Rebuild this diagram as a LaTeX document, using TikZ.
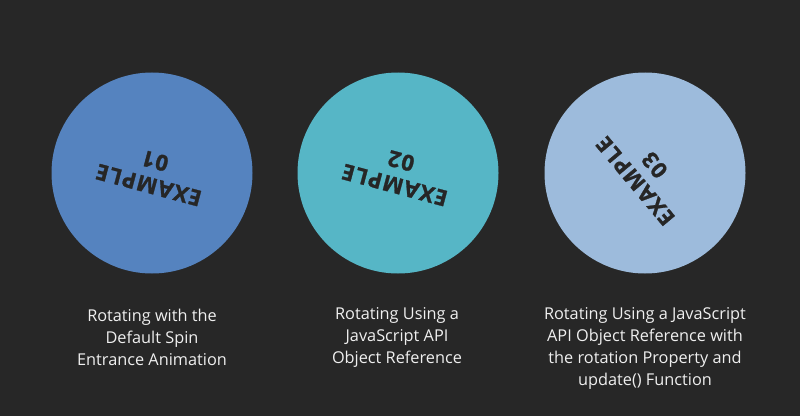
\documentclass[tikz,border=0pt]{standalone}
\usepackage{fontspec}
\setmainfont{Open Sans}
\newfontfamily\examplefont[LetterSpace=5,FakeBold=1.2]{Open Sans Bold}
\definecolor{bg}{HTML}{272727}
\definecolor{cone}{HTML}{5583BF}
\definecolor{ctwo}{HTML}{56B6C6}
\definecolor{cthree}{HTML}{9DBBDC}
\definecolor{ink}{HTML}{262626}
\definecolor{labelcol}{HTML}{EFEFEF}
\tikzset{
  disc/.style={circle, minimum size=201pt, inner sep=0pt, draw=none},
  spintext/.style={text=ink, font=\examplefont\fontsize{22}{25}\selectfont, align=center, inner sep=0pt},
  caption/.style={text=labelcol, font=\fontsize{16.3}{22}\selectfont, align=center, inner sep=0pt}
}
\begin{document}
\begin{tikzpicture}[x=1pt,y=1pt]
\fill[bg] (0,0) rectangle (800,416);
\useasboundingbox (0,0) rectangle (800,416);
\node[disc, fill=cone] (c1) at (152,243) {};
\node[disc, fill=ctwo] (c2) at (398,243) {};
\node[disc, fill=cthree] (c3) at (645,243) {};
\node[spintext, rotate=165] (t1) at (c1) {EXAMPLE\\01};
\node[spintext, rotate=165] (t2) at (c2) {EXAMPLE\\02};
\node[spintext, rotate=130] (t3) at (c3) {EXAMPLE\\03};
\node[caption] (l1) at (152,79) {Rotating with the\\Default Spin\\Entrance Animation};
\node[caption] (l2) at (397,79) {Rotating Using a\\JavaScript API\\Object Reference};
\node[caption] (l3) at (645,68) {Rotating Using a JavaScript\\API Object Reference with\\the rotation Property and\\update() Function};
\end{tikzpicture}
\end{document}
